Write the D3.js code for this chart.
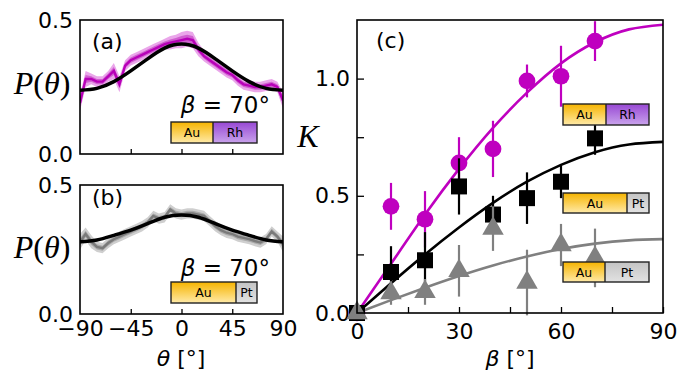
<!DOCTYPE html>
<html>
<head>
<meta charset="utf-8">
<script src="https://cdn.jsdelivr.net/npm/d3@7"></script>
<style>
  body { margin: 0; background: #fff; }
  svg { display: block; }
  .tick text { font-family: "DejaVu Sans", sans-serif; }
</style>
</head>
<body>
<svg id="fig" width="680" height="374"></svg>
<script>
// ---- panel (a)/(b): angle distributions at beta = 70 ----
var theta = [-90,-85,-80,-75,-70,-65,-60,-55,-50,-45,-40,-35,-30,-25,-20,-15,-10,-5,0,5,10,15,20,25,30,35,40,45,50,55,60,65,70,75,80,85,90];
var pRh = [0.19,0.28,0.28,0.27,0.27,0.29,0.31,0.26,0.33,0.35,0.36,0.37,0.38,0.39,0.40,0.41,0.415,0.42,0.425,0.43,0.425,0.39,0.365,0.35,0.335,0.32,0.305,0.295,0.275,0.26,0.255,0.25,0.25,0.255,0.26,0.25,0.20];
var pPt = [0.28,0.31,0.28,0.26,0.255,0.275,0.29,0.30,0.31,0.32,0.33,0.34,0.355,0.38,0.37,0.375,0.405,0.39,0.385,0.39,0.39,0.385,0.38,0.36,0.34,0.325,0.315,0.31,0.30,0.295,0.29,0.283,0.277,0.29,0.32,0.30,0.27];
var errRh = [0.03,0.03,0.02,0.02,0.02,0.02,0.03,0.03,0.02,0.02,0.02,0.02,0.02,0.02,0.02,0.02,0.025,0.025,0.03,0.03,0.03,0.025,0.02,0.02,0.02,0.02,0.02,0.02,0.02,0.02,0.02,0.02,0.02,0.02,0.02,0.02,0.03];
var errPt = [0.03,0.025,0.025,0.02,0.02,0.02,0.02,0.02,0.02,0.02,0.02,0.02,0.02,0.02,0.02,0.02,0.02,0.02,0.02,0.02,0.02,0.02,0.02,0.02,0.02,0.02,0.02,0.02,0.02,0.02,0.02,0.02,0.02,0.02,0.02,0.02,0.03];
var thetaFit = [-90,-75,-60,-45,-30,-15,0,15,30,45,60,75,90];
var fitA = [0.238,0.245,0.27,0.31,0.355,0.395,0.41,0.395,0.355,0.31,0.27,0.245,0.238];
var fitB = [0.28,0.287,0.305,0.325,0.35,0.375,0.384,0.375,0.35,0.325,0.305,0.287,0.28];
var thetaTicks = [-90,-45,0,45,90];
var thetaTickLabels = ["\u221290","\u221245","0","45","90"];
var pTicks = [0, 0.5];

// ---- panel (c): K vs beta ----
var beta = [0,10,20,30,40,50,60,70];
var kRh = [0,0.455,0.40,0.64,0.70,0.99,1.01,1.16];
var kRhErr = [0,0.10,0.12,0.11,0.12,0.07,0.13,0.085];
var kPtBig = [0,0.175,0.225,0.54,0.42,0.49,0.56,0.745];
var kPtBigErr = [0,0.11,0.12,0.12,0.08,0.11,0.07,0.07];
var kPtSmall = [0,0.085,0.09,0.18,0.36,0.13,0.29,0.235];
var kPtSmallErr = [0,0.05,0.055,0.11,0.095,0.14,0.09,0.125];
var betaFit = [0,10,20,30,40,50,60,70,80,90];
var fitRh = [0,0.21,0.42,0.615,0.79,0.94,1.065,1.155,1.21,1.23];
var fitPtBig = [0,0.127,0.25,0.365,0.47,0.56,0.632,0.686,0.719,0.73];
var fitPtSmall = [0,0.055,0.108,0.158,0.203,0.241,0.273,0.296,0.31,0.315];
var betaTicks = [0,15,30,45,60,75,90];
var kTicks = [0,0.25,0.5,0.75,1.0];

var svg = d3.select("#fig");
var defs = svg.append("defs");

function grad(id, top, bottom) {
  var g = defs.append("linearGradient").attr("id", id)
    .attr("x1", 0).attr("y1", 0).attr("x2", 0).attr("y2", 1);
  g.append("stop").attr("offset", "0%").attr("stop-color", top);
  g.append("stop").attr("offset", "100%").attr("stop-color", bottom);
}
grad("gAu", "#f6b400", "#ffeaa8");
grad("gRh", "#9848d4", "#c9a3ec");
grad("gPt", "#c4c4c4", "#e2e2e2");

// rod icon: gold part + second metal
function rod(x, y, w, h, split, metal, label) {
  var g = svg.append("g");
  g.append("rect").attr("x", x).attr("y", y).attr("width", split).attr("height", h)
    .attr("fill", "url(#gAu)");
  g.append("rect").attr("x", x + split).attr("y", y).attr("width", w - split).attr("height", h)
    .attr("fill", "url(#g" + metal + ")");
  g.append("rect").attr("x", x).attr("y", y).attr("width", w).attr("height", h)
    .attr("fill", "none").attr("stroke", "#222").attr("stroke-width", 1.4);
  g.append("line").attr("x1", x + split).attr("x2", x + split).attr("y1", y).attr("y2", y + h)
    .attr("stroke", "#222").attr("stroke-width", 1.4);
  g.append("text").attr("x", x + split / 2).attr("y", y + h / 2 + 4.5)
    .attr("text-anchor", "middle").attr("font-family", "DejaVu Sans").attr("font-size", 12.5)
    .text("Au");
  g.append("text").attr("x", x + split + (w - split) / 2).attr("y", y + h / 2 + 4.5)
    .attr("text-anchor", "middle").attr("font-family", "DejaVu Sans").attr("font-size", 12.5)
    .text(label);
}

function mathLabel(x, y, parts, size, anchor) {
  var t = svg.append("text").attr("x", x).attr("y", y)
    .attr("text-anchor", anchor || "middle")
    .attr("font-size", size);
  parts.forEach(function (p) {
    t.append("tspan").attr("font-family", p.f || "DejaVu Sans")
      .attr("font-style", p.i ? "italic" : "normal").text(p.t);
  });
  return t;
}

// ---- distribution panels ----
function distPanel(top, bottom, vals, errs, fit, col, showX, tag, tagY, betaY, ylabY) {
  var left = 80, right = 283;
  var x = d3.scaleLinear().domain([-90, 90]).range([left, right]);
  var y = d3.scaleLinear().domain([0, 0.5]).range([bottom, top]);
  var id = "clip" + tag;
  defs.append("clipPath").attr("id", id).append("rect")
    .attr("x", left).attr("y", top).attr("width", right - left).attr("height", bottom - top);
  var g = svg.append("g").attr("clip-path", "url(#" + id + ")");
  var idx = d3.range(theta.length);

  var outer = d3.area().x(function (i) { return x(theta[i]); })
    .y0(function (i) { return y(vals[i] - errs[i]); })
    .y1(function (i) { return y(vals[i] + errs[i]); });
  var inner = d3.area().x(function (i) { return x(theta[i]); })
    .y0(function (i) { return y(vals[i] - errs[i] * 0.5); })
    .y1(function (i) { return y(vals[i] + errs[i] * 0.5); });
  g.append("path").datum(idx).attr("d", outer).attr("fill", col[0]);
  g.append("path").datum(idx).attr("d", inner).attr("fill", col[1]);
  g.append("path").datum(idx)
    .attr("d", d3.line().x(function (i) { return x(theta[i]); }).y(function (i) { return y(vals[i]); }))
    .attr("fill", "none").attr("stroke", col[2]).attr("stroke-width", 2.4);
  g.append("path").datum(d3.range(thetaFit.length))
    .attr("d", d3.line().curve(d3.curveNatural)
      .x(function (i) { return x(thetaFit[i]); }).y(function (i) { return y(fit[i]); }))
    .attr("fill", "none").attr("stroke", "#000").attr("stroke-width", 3.5);

  var xa = svg.append("g").attr("transform", "translate(0," + bottom + ")")
    .call(d3.axisBottom(x).tickValues(thetaTicks).tickSize(-5).tickPadding(6)
      .tickFormat(function (d, i) { return showX ? thetaTickLabels[i] : ""; }));
  xa.select(".domain").remove();
  xa.selectAll(".tick line").attr("stroke-width", 1.3);
  xa.selectAll(".tick text").attr("font-size", 22).attr("fill", "#000");
  xa.selectAll(".tick").filter(function (d) { return d === -90 || d === 90; }).select("line").remove();

  var ya = svg.append("g").attr("transform", "translate(" + left + ",0)")
    .call(d3.axisLeft(y).tickValues(pTicks).tickSize(0).tickPadding(7).tickFormat(d3.format(".1f")));
  ya.select(".domain").remove();
  ya.selectAll(".tick text").attr("font-size", 22).attr("fill", "#000");

  svg.append("rect").attr("x", left).attr("y", top).attr("width", right - left).attr("height", bottom - top)
    .attr("fill", "none").attr("stroke", "#000").attr("stroke-width", 1.6);

  mathLabel(92, tagY, [{ t: "(" + tag + ")" }], 22, "start");
  mathLabel(270, betaY, [{ t: "\u03b2", i: true }, { t: " = 70\u00b0" }], 23, "end");
  mathLabel(42, ylabY, [{ t: "P", i: true, f: "Liberation Serif" }, { t: "(", f: "Liberation Serif" },
    { t: "\u03b8", i: true, f: "Liberation Serif" }, { t: ")", f: "Liberation Serif" }], 32);
}

distPanel(20, 154, pRh, errRh, fitA, ["#eaa6ea", "#d060d0", "#b800b8"], false, "a", 49, 113, 94);
rod(171, 122, 86, 21, 42, "Rh", "Rh");
distPanel(185, 314, pPt, errPt, fitB, ["#cfcfcf", "#a9a9a9", "#7a7a7a"], true, "b", 205, 276, 258);
rod(171, 282, 86, 21, 65, "Pt", "Pt");
mathLabel(181, 366, [{ t: "\u03b8", i: true }, { t: " [\u00b0]" }], 22);

// ---- panel (c) ----
var cl = 357, cr = 663, ct = 20, cb = 313;
var xb = d3.scaleLinear().domain([0, 90]).range([cl, cr]);
var yk = d3.scaleLinear().domain([0, 1.25]).range([cb, ct]);
defs.append("clipPath").attr("id", "clipc").append("rect")
  .attr("x", cl).attr("y", ct).attr("width", cr - cl).attr("height", cb - ct);

var xc = svg.append("g").attr("transform", "translate(0," + cb + ")")
  .call(d3.axisBottom(xb).tickValues(betaTicks).tickSize(-6).tickPadding(10)
    .tickFormat(function (d) { return d % 30 === 0 ? d : ""; }));
xc.select(".domain").remove();
xc.selectAll(".tick line").attr("stroke-width", 1.3);
xc.selectAll(".tick text").attr("font-size", 22).attr("fill", "#000");

var yc = svg.append("g").attr("transform", "translate(" + cl + ",0)")
  .call(d3.axisLeft(yk).tickValues(kTicks).tickSize(-7).tickPadding(7)
    .tickFormat(function (d) { return (d * 2) % 1 === 0 ? d3.format(".1f")(d) : ""; }));
yc.select(".domain").remove();
yc.selectAll(".tick line").attr("stroke-width", 1.3);
yc.selectAll(".tick text").attr("font-size", 22).attr("fill", "#000");

var gc = svg.append("g").attr("clip-path", "url(#clipc)");
var fitLine = function (vals) {
  return d3.line().curve(d3.curveNatural)
    .x(function (i) { return xb(betaFit[i]); }).y(function (i) { return yk(vals[i]); });
};

function series(vals, errs, fit, col, shape) {
  var idx = d3.range(beta.length);
  gc.append("path").datum(d3.range(betaFit.length)).attr("d", fitLine(fit))
    .attr("fill", "none").attr("stroke", col).attr("stroke-width", 2.6);
  svg.selectAll(null).data(idx).enter().append("line")
    .attr("x1", function (i) { return xb(beta[i]); }).attr("x2", function (i) { return xb(beta[i]); })
    .attr("y1", function (i) { return yk(vals[i] - errs[i]); })
    .attr("y2", function (i) { return yk(vals[i] + errs[i]); })
    .attr("stroke", col).attr("stroke-width", 2.2);
  svg.selectAll(null).data(idx).enter().append("path")
    .attr("transform", function (i) { return "translate(" + xb(beta[i]) + "," + yk(vals[i]) + ")"; })
    .attr("d", d3.symbol().type(shape).size(shape === d3.symbolTriangle ? 200 : (shape === d3.symbolSquare ? 256 : 220)))
    .attr("fill", col);
}
series(kRh, kRhErr, fitRh, "#bf00bf", d3.symbolCircle);
series(kPtBig, kPtBigErr, fitPtBig, "#000", d3.symbolSquare);
series(kPtSmall, kPtSmallErr, fitPtSmall, "#808080", d3.symbolTriangle);

svg.append("rect").attr("x", cl).attr("y", ct).attr("width", cr - cl).attr("height", cb - ct)
  .attr("fill", "none").attr("stroke", "#000").attr("stroke-width", 1.6);

rod(563, 104, 86, 21, 43, "Rh", "Rh");
rod(563, 193, 86, 20, 64, "Pt", "Pt");
rod(563, 262, 86, 20, 42, "Pt", "Pt");

mathLabel(376, 48, [{ t: "(c)" }], 22, "start");
mathLabel(308, 147, [{ t: "K", i: true, f: "Liberation Serif" }], 32);
mathLabel(510, 366, [{ t: "\u03b2", i: true }, { t: " [\u00b0]" }], 22);
</script>
</body>
</html>
